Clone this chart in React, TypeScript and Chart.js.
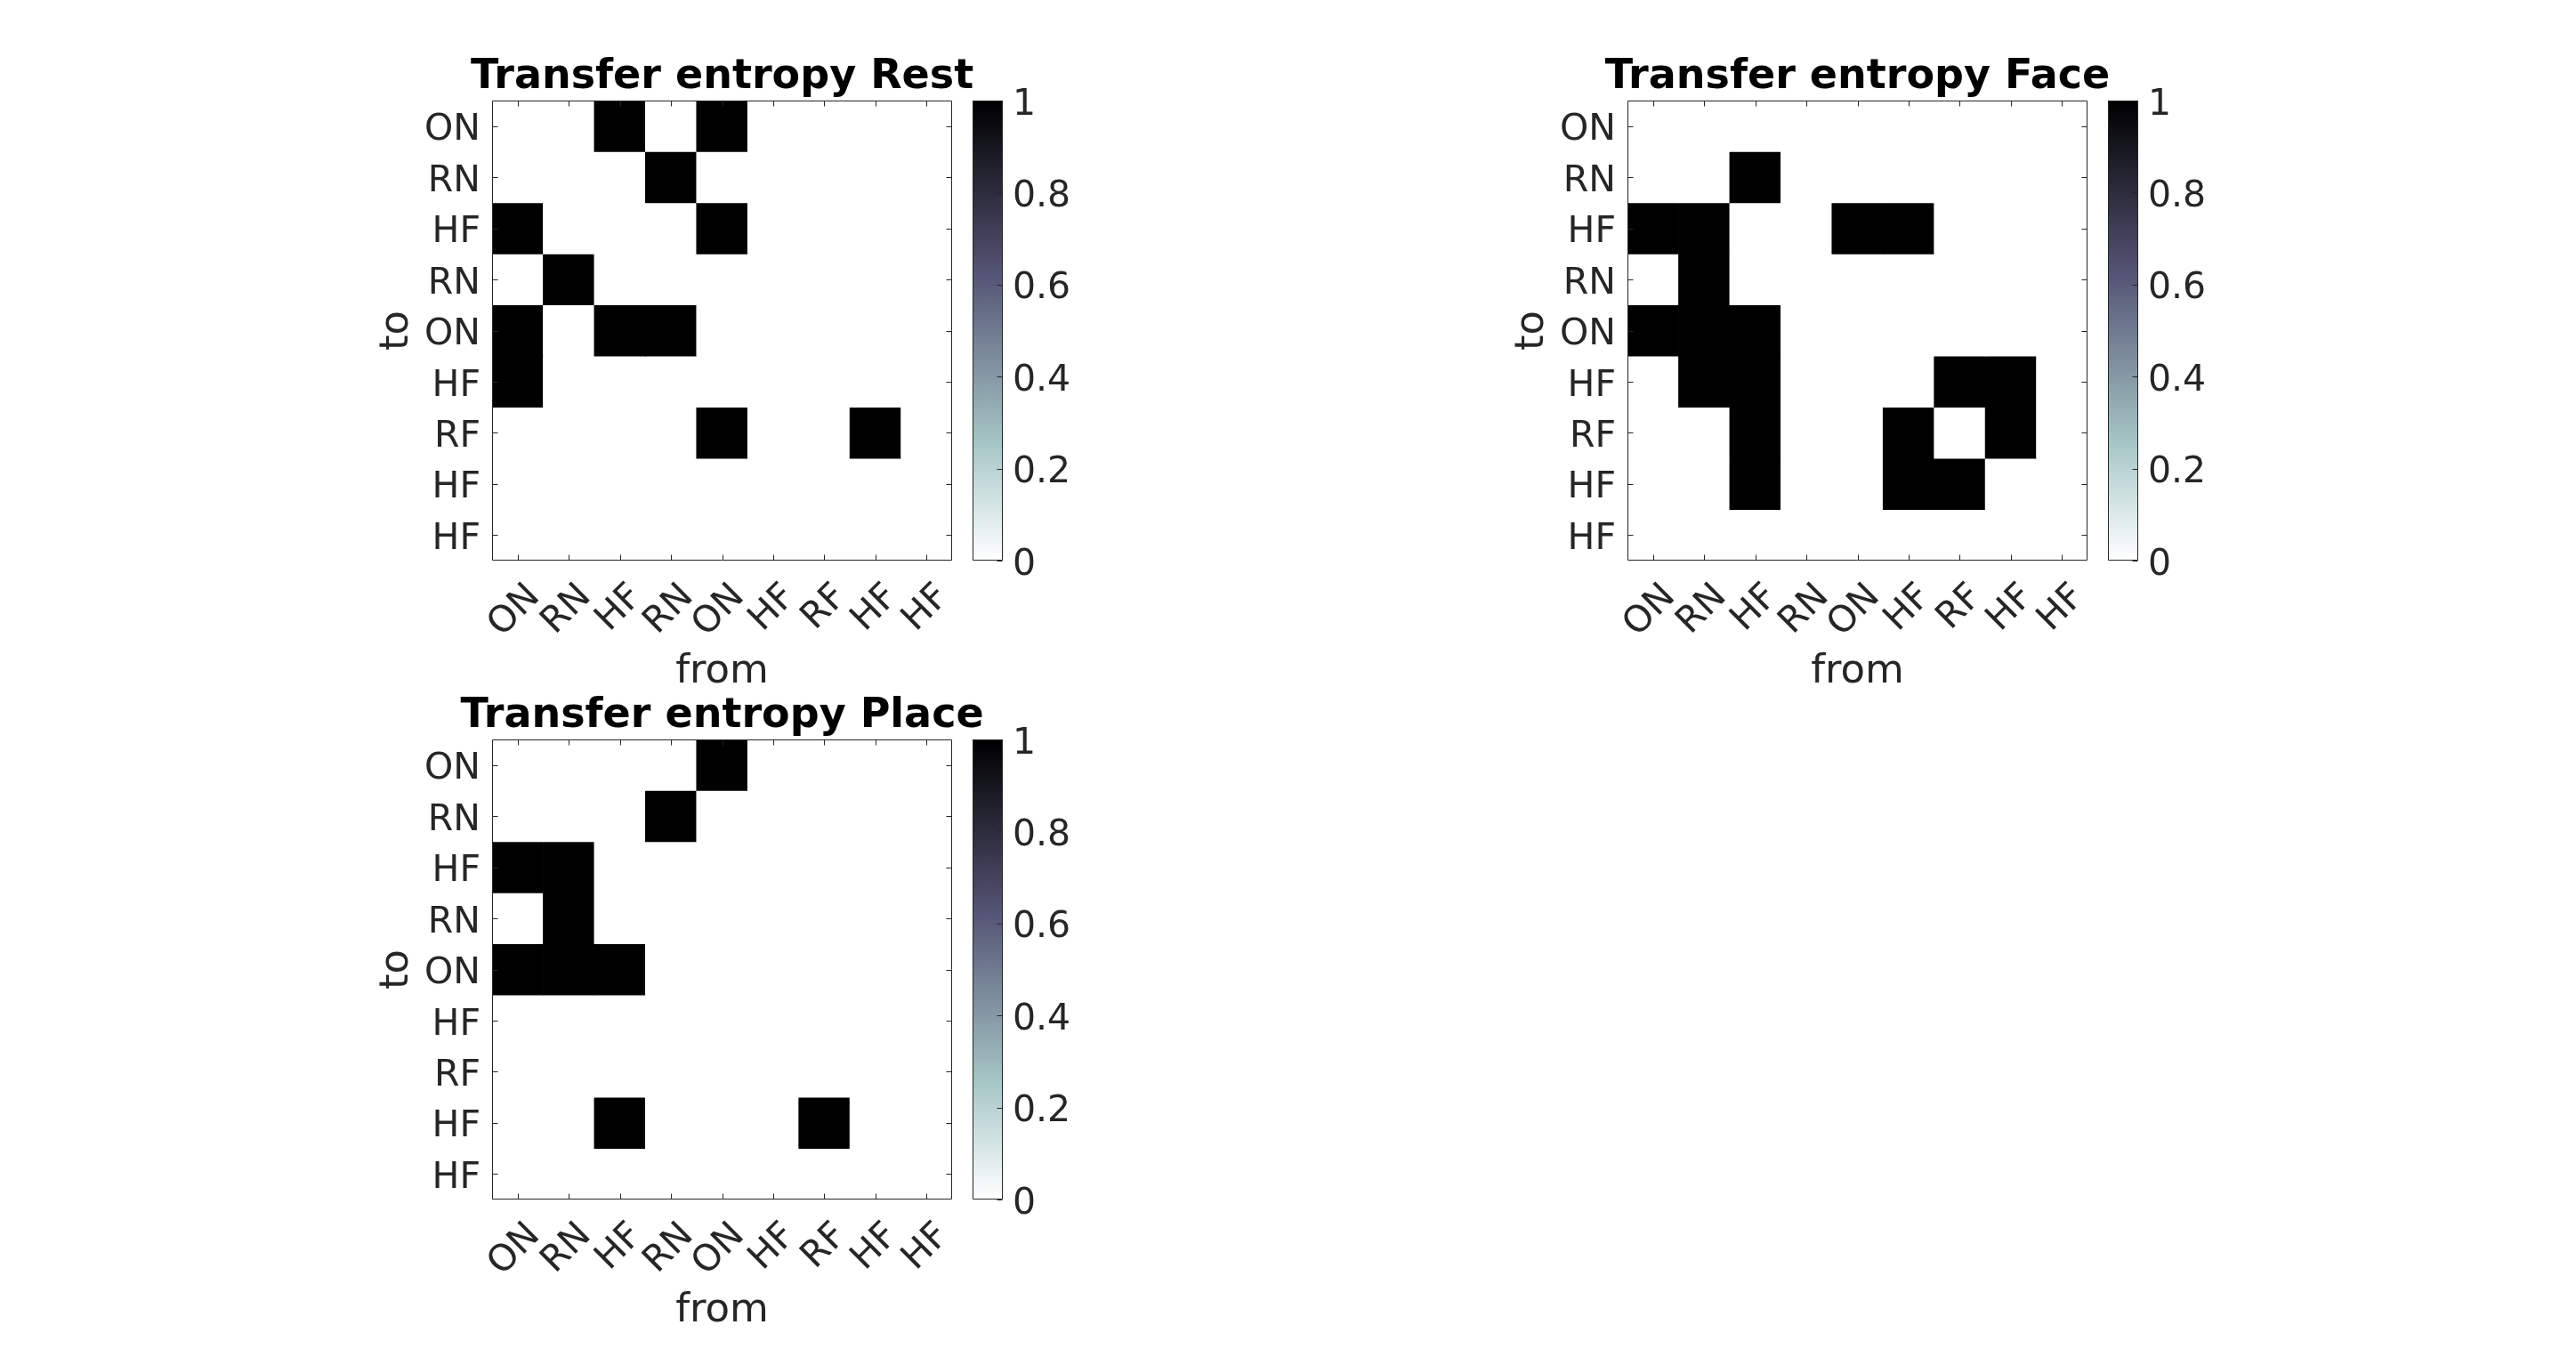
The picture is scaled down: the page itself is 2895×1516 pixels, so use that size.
import React, { useEffect, useRef } from 'react';
import { Chart, registerables } from 'chart.js';

Chart.register(...registerables);

// ---------------- data ----------------
const fromLabels = ['ON', 'RN', 'HF', 'RN', 'ON', 'HF', 'RF', 'HF', 'HF'];
const toLabels = ['ON', 'RN', 'HF', 'RN', 'ON', 'HF', 'RF', 'HF', 'HF'];

// rows = "to" (top to bottom), columns = "from" (left to right)
const restTE = [
  [0, 0, 1, 0, 1, 0, 0, 0, 0],
  [0, 0, 0, 1, 0, 0, 0, 0, 0],
  [1, 0, 0, 0, 1, 0, 0, 0, 0],
  [0, 1, 0, 0, 0, 0, 0, 0, 0],
  [1, 0, 1, 1, 0, 0, 0, 0, 0],
  [1, 0, 0, 0, 0, 0, 0, 0, 0],
  [0, 0, 0, 0, 1, 0, 0, 1, 0],
  [0, 0, 0, 0, 0, 0, 0, 0, 0],
  [0, 0, 0, 0, 0, 0, 0, 0, 0],
];

const faceTE = [
  [0, 0, 0, 0, 0, 0, 0, 0, 0],
  [0, 0, 1, 0, 0, 0, 0, 0, 0],
  [1, 1, 0, 0, 1, 1, 0, 0, 0],
  [0, 1, 0, 0, 0, 0, 0, 0, 0],
  [1, 1, 1, 0, 0, 0, 0, 0, 0],
  [0, 1, 1, 0, 0, 0, 1, 1, 0],
  [0, 0, 1, 0, 0, 1, 0, 1, 0],
  [0, 0, 1, 0, 0, 1, 1, 0, 0],
  [0, 0, 0, 0, 0, 0, 0, 0, 0],
];

const placeTE = [
  [0, 0, 0, 0, 1, 0, 0, 0, 0],
  [0, 0, 0, 1, 0, 0, 0, 0, 0],
  [1, 1, 0, 0, 0, 0, 0, 0, 0],
  [0, 1, 0, 0, 0, 0, 0, 0, 0],
  [1, 1, 1, 0, 0, 0, 0, 0, 0],
  [0, 0, 0, 0, 0, 0, 0, 0, 0],
  [0, 0, 0, 0, 0, 0, 0, 0, 0],
  [0, 0, 1, 0, 0, 0, 1, 0, 0],
  [0, 0, 0, 0, 0, 0, 0, 0, 0],
];

const colorbarTicks = [0, 0.2, 0.4, 0.6, 0.8, 1];

// ---------------- style ----------------
const FAMILY = '"DejaVu Sans", sans-serif';
const AXIS_COLOR = '#262626';
const PLOT = 517;
const YW = 150;
const XH = 152;
const TITLE_H = 60;
const TICK_LEN = 6;

// MATLAB "bone" colormap, reversed (0 -> white, 1 -> black)
function bone(t: number): [number, number, number] {
  const hr = Math.min(1, t / 0.375);
  const hg = Math.min(1, Math.max(0, (t - 0.375) / 0.375));
  const hb = Math.min(1, Math.max(0, (t - 0.75) / 0.25));
  return [(7 * t + hb) / 8, (7 * t + hg) / 8, (7 * t + hr) / 8];
}
function cmap(v: number): string {
  const [r, g, b] = bone(1 - Math.max(0, Math.min(1, v)));
  return `rgb(${Math.round(r * 255)},${Math.round(g * 255)},${Math.round(b * 255)})`;
}

const heatFrame = {
  id: 'heatFrame',
  afterDatasetsDraw(chart: any) {
    const { ctx, chartArea: a, scales } = chart;
    ctx.save();
    ctx.strokeStyle = AXIS_COLOR;
    ctx.lineWidth = 1;
    const L = Math.round(a.left) + 0.5;
    const R = Math.round(a.right) - 0.5;
    const T = Math.round(a.top) + 0.5;
    const B = Math.round(a.bottom) - 0.5;
    ctx.beginPath();
    ctx.rect(L, T, R - L, B - T);
    for (let i = 0; i < fromLabels.length; i++) {
      const x = Math.round(scales.x.getPixelForTick(i)) + 0.5;
      ctx.moveTo(x, B);
      ctx.lineTo(x, B - TICK_LEN);
      ctx.moveTo(x, T);
      ctx.lineTo(x, T + TICK_LEN);
    }
    for (let i = 0; i < toLabels.length; i++) {
      const y = Math.round(scales.y.getPixelForValue(i + 0.5)) + 0.5;
      ctx.moveTo(L, y);
      ctx.lineTo(L + TICK_LEN, y);
      ctx.moveTo(R, y);
      ctx.lineTo(R - TICK_LEN, y);
    }
    ctx.stroke();
    ctx.restore();
  },
};

const barFrame = {
  id: 'barFrame',
  afterDatasetsDraw(chart: any) {
    const { ctx, chartArea: a, scales } = chart;
    ctx.save();
    ctx.strokeStyle = AXIS_COLOR;
    ctx.lineWidth = 1;
    const L = Math.round(a.left) + 0.5;
    const R = Math.round(a.right) - 0.5;
    const T = Math.round(a.top) + 0.5;
    const B = Math.round(a.bottom) - 0.5;
    ctx.beginPath();
    ctx.rect(L, T, R - L, B - T);
    colorbarTicks.forEach((v) => {
      const y = Math.round(scales.y.getPixelForValue(v)) + 0.5;
      ctx.moveTo(R, y);
      ctx.lineTo(R - TICK_LEN, y);
    });
    ctx.stroke();
    ctx.restore();
  },
};

function Heatmap({ plotLeft, plotTop, title, matrix }: { plotLeft: number; plotTop: number; title: string; matrix: number[][] }) {
  const ref = useRef<HTMLCanvasElement>(null);
  const W = YW + PLOT + YW;
  const H = TITLE_H + PLOT + XH;
  useEffect(() => {
    if (!ref.current) return;
    const chart = new Chart(ref.current, {
      type: 'bar',
      data: {
        labels: fromLabels,
        datasets: matrix.map((row, r) => ({
          label: toLabels[r],
          data: row.map(() => 1),
          backgroundColor: row.map((v) => cmap(v)),
          borderWidth: 0,
          barPercentage: 1,
          categoryPercentage: 1,
        })),
      },
      options: {
        animation: false,
        responsive: false,
        devicePixelRatio: 1,
        events: [],
        layout: { padding: 0 },
        plugins: {
          legend: { display: false },
          tooltip: { enabled: false },
          title: {
            display: true,
            text: title,
            fullSize: true,
            color: '#000000',
            font: { family: FAMILY, size: 46, weight: 'bold', lineHeight: '52px' },
            padding: { top: 8, bottom: 0 },
          },
        },
        scales: {
          x: {
            type: 'category',
            stacked: true,
            offset: true,
            grid: { display: false, drawTicks: false },
            border: { display: false },
            ticks: {
              autoSkip: false,
              maxRotation: 45,
              minRotation: 45,
              padding: 17,
              labelOffset: 19,
              color: AXIS_COLOR,
              font: { family: FAMILY, size: 41 },
            },
            title: {
              display: true,
              text: 'from',
              color: AXIS_COLOR,
              font: { family: FAMILY, size: 45, lineHeight: 1.2 },
              padding: { top: 0, bottom: 0 },
            },
            afterFit: (s: any) => {
              s.height = XH;
            },
          },
          y: {
            type: 'linear',
            stacked: true,
            reverse: true,
            min: 0,
            max: toLabels.length,
            grid: { display: false, drawTicks: false },
            border: { display: false },
            afterBuildTicks: (s: any) => {
              s.ticks = toLabels.map((_, i) => ({ value: i + 0.5 }));
            },
            ticks: {
              padding: 13,
              labelOffset: 5,
              color: AXIS_COLOR,
              font: { family: FAMILY, size: 41 },
              callback: (_v: any, i: number) => toLabels[i],
            },
            title: {
              display: true,
              text: 'to',
              color: AXIS_COLOR,
              font: { family: FAMILY, size: 45, lineHeight: 1.2 },
              padding: { top: 16, bottom: 0 },
            },
            afterFit: (s: any) => {
              s.width = YW;
            },
          },
          spacer: {
            type: 'linear',
            position: 'right',
            display: true,
            grid: { display: false, drawTicks: false },
            border: { display: false },
            ticks: { display: false },
            afterFit: (s: any) => {
              s.width = YW;
            },
          },
        },
      } as any,
      plugins: [heatFrame],
    });
    return () => chart.destroy();
  }, []);
  return (
    <canvas
      ref={ref}
      width={W}
      height={H}
      style={{ position: 'absolute', left: plotLeft - YW, top: plotTop - TITLE_H, width: W, height: H }}
    />
  );
}

function Colorbar({ barLeft, barTop }: { barLeft: number; barTop: number }) {
  const ref = useRef<HTMLCanvasElement>(null);
  const PL = 10;
  const PT = 50;
  const BW = 34;
  const AW = 100;
  const W = PL + BW + AW;
  const H = PT + PLOT + PT;
  useEffect(() => {
    if (!ref.current) return;
    const chart = new Chart(ref.current, {
      type: 'bar',
      data: {
        labels: ['cb'],
        datasets: [
          {
            data: [[0, 1]] as any,
            borderWidth: 0,
            barPercentage: 1,
            categoryPercentage: 1,
            backgroundColor: (c: any) => {
              const area = c.chart.chartArea;
              if (!area) return '#888';
              const g = c.chart.ctx.createLinearGradient(0, area.bottom, 0, area.top);
              const N = 64;
              for (let i = 0; i <= N; i++) g.addColorStop(i / N, cmap(i / N));
              return g;
            },
          },
        ],
      },
      options: {
        animation: false,
        responsive: false,
        devicePixelRatio: 1,
        events: [],
        layout: { padding: { left: PL, right: 0, top: PT, bottom: PT } },
        plugins: { legend: { display: false }, tooltip: { enabled: false }, title: { display: false } },
        scales: {
          x: { type: 'category', display: false, offset: true },
          y: {
            type: 'linear',
            position: 'right',
            min: 0,
            max: 1,
            grid: { display: false, drawTicks: false },
            border: { display: false },
            afterBuildTicks: (s: any) => {
              s.ticks = colorbarTicks.map((v) => ({ value: v }));
            },
            ticks: {
              padding: 11,
              labelOffset: 5,
              color: AXIS_COLOR,
              font: { family: FAMILY, size: 41 },
              callback: (v: any) => String(v),
            },
            afterFit: (s: any) => {
              s.width = AW;
            },
          },
        },
      } as any,
      plugins: [barFrame],
    });
    return () => chart.destroy();
  }, []);
  return (
    <canvas
      ref={ref}
      width={W}
      height={H}
      style={{ position: 'absolute', left: barLeft - PL, top: barTop - PT, width: W, height: H }}
    />
  );
}

export default function App() {
  return (
    <div
      style={{
        position: 'absolute',
        left: 0,
        top: 0,
        width: 2895,
        height: 1516,
        background: '#ffffff',
        overflow: 'hidden',
      }}
    >
      <Heatmap plotLeft={553} plotTop={113} title="Transfer entropy Rest" matrix={restTE} />
      <Colorbar barLeft={1093} barTop={113} />
      <Heatmap plotLeft={1829} plotTop={113} title="Transfer entropy Face" matrix={faceTE} />
      <Colorbar barLeft={2369} barTop={113} />
      <Heatmap plotLeft={553} plotTop={831} title="Transfer entropy Place" matrix={placeTE} />
      <Colorbar barLeft={1093} barTop={831} />
    </div>
  );
}
